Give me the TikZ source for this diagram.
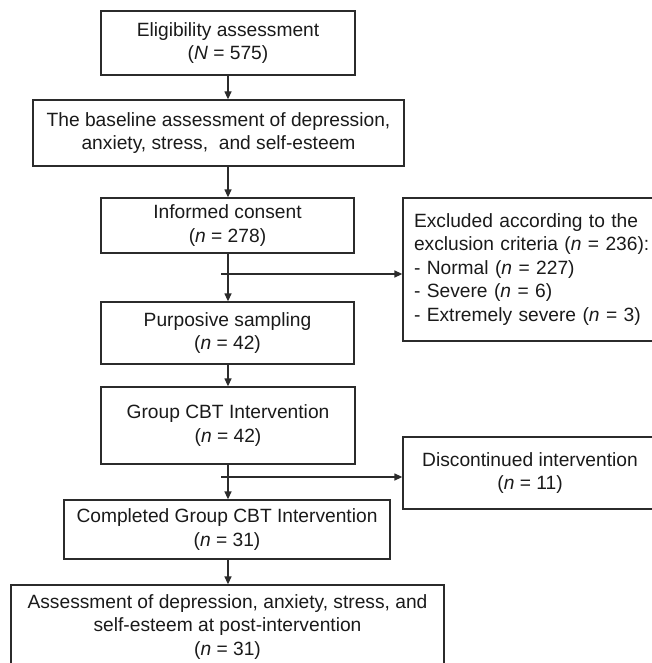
\documentclass[tikz,border=0pt]{standalone}
\usepackage{fontspec}
\setmainfont{Liberation Sans}
\usetikzlibrary{arrows.meta}
\definecolor{linecol}{HTML}{2B2B2B}
\definecolor{textcol}{HTML}{1A1A1A}
\begin{document}
\begin{tikzpicture}[x=1pt,y=-1pt,
  box/.style={draw=linecol, line width=1.3pt, align=center, inner sep=0pt, text=textcol,
    font=\fontsize{19.2pt}{23.5pt}\selectfont},
  conn/.style={draw=linecol, line width=1.3pt, -{Triangle[length=8pt,width=7pt]}}]
\useasboundingbox (0,0) rectangle (652,663);
\node[box, minimum width=254pt, minimum height=64pt] (b1) at (228,43) {Eligibility assessment\\(\textit{N} = 575)};
\node[box, minimum width=371pt, minimum height=66pt] (b2) at (218.5,133) {The baseline assessment of depression,\\anxiety, stress,\ \ and self-esteem};
\node[box, minimum width=253pt, minimum height=55pt] (b3) at (227.5,225.5) {Informed consent\\(\textit{n} = 278)};
\node[box, minimum width=253pt, minimum height=62pt] (b4) at (227.5,333) {Purposive sampling\\(\textit{n} = 42)};
\node[box, minimum width=254pt, minimum height=77pt] (b5) at (228,425.5) {Group CBT Intervention\\(\textit{n} = 42)};
\node[box, minimum width=326pt, minimum height=59pt] (b6) at (227,529.5) {Completed Group CBT Intervention\\(\textit{n} = 31)};
\node[box, minimum width=433pt, minimum height=84pt] (b7) at (227.5,627) {Assessment of depression, anxiety, stress, and\\self-esteem at post-intervention\\(\textit{n} = 31)};
\node[box, align=left, text width=252pt, inner xsep=11pt, minimum height=143pt] (ex) at (540,269.5) {Excluded according to the\\exclusion criteria (\textit{n} = 236):\\- Normal (\textit{n} = 227)\\- Severe (\textit{n} = 6)\\- Extremely severe (\textit{n} = 3)};
\node[box, minimum width=254pt, minimum height=72pt] (dc) at (530,473) {Discontinued intervention\\(\textit{n} = 11)};
\coordinate (j1) at (221,274);
\coordinate (j2) at (221,477);
\draw[conn] (b1.south) -- (b1.south |- b2.north);
\draw[conn] (b1.south |- b2.south) -- (b1.south |- b3.north);
\draw[conn] (b1.south |- b3.south) -- (b1.south |- b4.north);
\draw[conn] (b1.south |- b4.south) -- (b1.south |- b5.north);
\draw[conn] (b1.south |- b5.south) -- (b1.south |- b6.north);
\draw[conn] (b1.south |- b6.south) -- (b1.south |- b7.north);
\draw[conn] (j1) -- (j1 -| ex.west);
\draw[conn] (j2) -- (j2 -| dc.west);
\end{tikzpicture}
\end{document}
